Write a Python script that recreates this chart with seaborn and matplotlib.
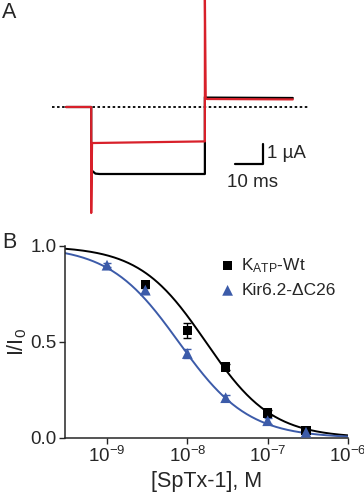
import numpy as np
import pandas as pd
import seaborn as sns
import matplotlib
matplotlib.use('Agg')
import matplotlib.pyplot as plt

# Panel A: current traces (time in ms, current in uA)
t_black = [5, 14, 14, 14.4, 15.5, 17, 54.6, 54.6, 55.3, 86]
i_black = [0, 0, -3.15, -3.2, -3.33, -3.35, -3.35, 0.5, 0.47, 0.45]
t_red = [5, 14, 14, 14.3, 15, 54.6, 54.6, 54.9, 55.4, 86]
i_red = [0, 0, -5.3, -1.8, -1.8, -1.72, 5.6, 0.42, 0.4, 0.38]

# Panel B: dose response
conc_wt = [3e-9, 1e-8, 3e-8, 1e-7, 3e-7]
resp_wt = [0.80, 0.56, 0.37, 0.13, 0.04]
err_wt = [0.02, 0.04, 0.015, 0.015, 0.01]
conc_kir = [1e-9, 3e-9, 1e-8, 3e-8, 1e-7, 3e-7]
resp_kir = [0.90, 0.77, 0.44, 0.21, 0.09, 0.03]
err_kir = [0.01, 0.015, 0.025, 0.015, 0.015, 0.01]
# Hill fit parameters (IC50 in M, Hill coefficient)
ic50_wt, hill_wt = 1.7e-8, 1.05
ic50_kir, hill_kir = 7.8e-9, 1.0

RED = '#d8202a'
BLUE = '#3c5ba9'

sns.set_style('ticks')
plt.rcParams['font.family'] = ['Liberation Sans', 'DejaVu Sans']
plt.rcParams['mathtext.fontset'] = 'custom'
plt.rcParams['mathtext.rm'] = 'Liberation Sans'
plt.rcParams['mathtext.it'] = 'Liberation Sans:italic'

fig = plt.figure(figsize=(3.64, 5.0), dpi=100)

# ---- panel A ----
axA = fig.add_axes([0, 1 - 220 / 500, 1, 220 / 500])
axA.axis('off')
axA.plot([0, 91.4], [0, 0], color='black', lw=1.3, ls=(0, (1.4, 1.4)))
dfb = pd.DataFrame({'t': t_black, 'i': i_black})
dfr = pd.DataFrame({'t': t_red, 'i': i_red})
sns.lineplot(data=dfb, x='t', y='i', sort=False, estimator=None, color='black', lw=1.6, ax=axA)
sns.lineplot(data=dfr, x='t', y='i', sort=False, estimator=None, color=RED, lw=1.6, ax=axA)
axA.set_xlim(-52 / 2.8, (364 - 52) / 2.8)
axA.set_ylim(-5.65, 5.35)
# scale bar: 10 ms, 1 uA
axA.plot([65.4, 75.4, 75.4], [-2.85, -2.85, -1.85], color='black', lw=1.6)
axA.text(76.8, -2.35, '1 µA', fontsize=13.5, va='center', ha='left')
axA.text(71.5, -3.35, '10 ms', fontsize=13.5, va='top', ha='center')
fig.text(0.005, 0.995, 'A', fontsize=15.5, va='top', ha='left')

# ---- panel B ----
axB = fig.add_axes([65 / 364, 1 - 438 / 500, (348 - 65) / 364, 192 / 500])
xs = np.logspace(np.log10(3e-10), -6, 300)
curve = pd.DataFrame({
    'x': np.concatenate([xs, xs]),
    'y': np.concatenate([1 / (1 + (xs / ic50_wt) ** hill_wt),
                         1 / (1 + (xs / ic50_kir) ** hill_kir)]),
    'g': ['wt'] * len(xs) + ['kir'] * len(xs)})
sns.lineplot(data=curve, x='x', y='y', hue='g', palette={'wt': 'black', 'kir': BLUE},
             lw=1.4, legend=False, ax=axB)
axB.errorbar(conc_wt, resp_wt, yerr=err_wt, fmt='none', ecolor='black', elinewidth=1, capsize=3)
axB.errorbar(conc_kir, resp_kir, yerr=err_kir, fmt='none', ecolor=BLUE, elinewidth=1, capsize=3)
sns.scatterplot(x=conc_wt, y=resp_wt, marker='s', color='black', s=45, edgecolor='none',
                label=r'K$_{\mathrm{ATP}}$-Wt', ax=axB, zorder=5)
sns.scatterplot(x=conc_kir, y=resp_kir, marker='^', color=BLUE, s=60, edgecolor='none',
                label='Kir6.2-ΔC26', ax=axB, zorder=5)
axB.set_xscale('log')
axB.set_xlim(3e-10, 1e-6)
axB.set_ylim(0, 1.0)
axB.set_xticks([1e-9, 1e-8, 1e-7, 1e-6])
axB.set_xticklabels([r'10$^{-9}$', r'10$^{-8}$', r'10$^{-7}$', r'10$^{-6}$'])
axB.minorticks_off()
axB.set_yticks([0, 0.5, 1.0])
axB.set_yticklabels(['0.0', '0.5', '1.0'])
axB.tick_params(labelsize=13.5, length=4, width=1, direction='out', pad=2)
for s in ['left', 'bottom']:
    axB.spines[s].set_linewidth(1.1)
sns.despine(ax=axB)
axB.set_xlabel('[SpTx-1], M', fontsize=15.5, labelpad=3)
axB.set_ylabel(r'I/I$_0$', fontsize=15.5, labelpad=1)
axB.legend(loc='upper right', bbox_to_anchor=(1.0, 1.01), frameon=False, fontsize=12.5,
           handletextpad=0.3, handlelength=1.0, labelspacing=0.45, borderaxespad=0.3)
fig.text(0.005, 1 - 232 / 500, 'B', fontsize=15.5, va='top', ha='left')

fig.savefig('out.png', dpi=100)
